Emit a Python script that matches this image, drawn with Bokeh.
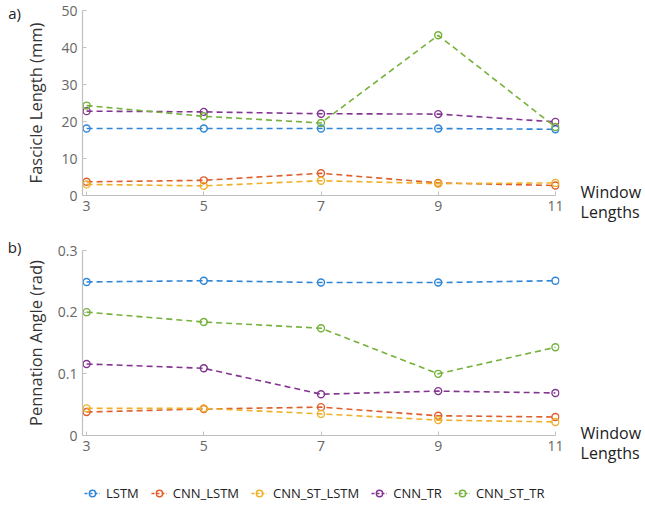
from bokeh.plotting import figure
from bokeh.models import Range1d, Legend, LegendItem, Label, CustomJSTickFormatter
from bokeh.layouts import column
from bokeh.embed import file_html
from bokeh.resources import INLINE

window_lengths = [3, 5, 7, 9, 11]
series_names = ["LSTM", "CNN_LSTM", "CNN_ST_LSTM", "CNN_TR", "CNN_ST_TR"]
colors = ["#2f86d6", "#dc5f2c", "#eeb02a", "#833591", "#76b13c"]

fascicle_lstm = [18.1, 18.1, 18.1, 18.1, 17.9]
fascicle_cnn_lstm = [3.7, 4.1, 6.0, 3.4, 2.7]
fascicle_cnn_st_lstm = [3.0, 2.6, 4.0, 3.2, 3.4]
fascicle_cnn_tr = [22.8, 22.6, 22.1, 22.0, 19.9]
fascicle_cnn_st_tr = [24.3, 21.4, 19.6, 43.3, 18.5]

pennation_lstm = [0.249, 0.251, 0.248, 0.248, 0.251]
pennation_cnn_lstm = [0.038, 0.043, 0.046, 0.032, 0.030]
pennation_cnn_st_lstm = [0.044, 0.044, 0.035, 0.025, 0.022]
pennation_cnn_tr = [0.116, 0.109, 0.067, 0.072, 0.069]
pennation_cnn_st_tr = [0.200, 0.184, 0.174, 0.100, 0.143]

fascicle = [fascicle_lstm, fascicle_cnn_lstm, fascicle_cnn_st_lstm, fascicle_cnn_tr, fascicle_cnn_st_tr]
pennation = [pennation_lstm, pennation_cnn_lstm, pennation_cnn_st_lstm, pennation_cnn_tr, pennation_cnn_st_tr]

FONT = "Open Sans"
AXIS_COL = "#c0c0c0"
TICK_TXT = "#666666"
X0, X1 = 2.93, 11.07


def make_panel(data, yend, yticks, ylabel, height, border_top, border_bottom, label_standoff, fmt):
    p = figure(width=645, height=height, output_backend="svg", toolbar_location=None,
               x_range=Range1d(X0, X1), y_range=Range1d(0, yend),
               min_border_left=82, min_border_right=86,
               min_border_top=border_top, min_border_bottom=border_bottom)
    p.outline_line_color = None
    p.grid.visible = False

    for vals, col in zip(data, colors):
        p.line(window_lengths, vals, line_color=col, line_width=1.6, line_dash="6 4")
        p.scatter(window_lengths, vals, marker="circle", size=7, line_color=col,
                  line_width=1.4, fill_color=None)

    for ax in [p.xaxis[0], p.yaxis[0]]:
        ax.axis_line_color = AXIS_COL
        ax.axis_line_width = 1.2
        ax.major_tick_line_color = AXIS_COL
        ax.major_tick_in = 4
        ax.major_tick_out = 0
        ax.minor_tick_line_color = None
        ax.major_label_text_color = TICK_TXT
        ax.major_label_text_font = FONT
        ax.major_label_text_font_size = "14px"
        ax.major_label_standoff = 5

    p.xaxis.ticker = window_lengths
    p.xaxis.bounds = (X0, 11)
    p.yaxis.ticker = yticks
    p.yaxis.axis_label = ylabel
    p.yaxis.axis_label_text_font = FONT
    p.yaxis.axis_label_text_font_size = "16.5px"
    p.yaxis.axis_label_text_font_style = "normal"
    p.yaxis.axis_label_text_color = "#333333"
    p.yaxis.axis_label_standoff = label_standoff
    if fmt:
        p.yaxis.formatter = CustomJSTickFormatter(code="return tick === 0 ? '0' : tick.toFixed(1);")
    return p


def side_label(p, side, x, y, text, size, align):
    p.add_layout(Label(x=x, y=y, text=text, text_font=FONT, text_font_size=size,
                       text_color="#222222", text_align=align, text_baseline="middle",
                       text_line_height=0.87), side)


top = make_panel(fascicle, 50, [0, 10, 20, 30, 40, 50], "Fascicle Length (mm)",
                 225, 10, 30, 11, False)
bot = make_panel(pennation, 0.3, [0, 0.1, 0.2, 0.3], "Pennation Angle (rad)",
                 245, 25, 35, 8, True)

side_label(top, "left", 1.77, 49.2, "a)", "15px", "center")
side_label(bot, "left", 1.77, 0.305, "b)", "15px", "center")
side_label(top, "right", 11.43, -1.76, "Window\nLengths", "16px", "left")
side_label(bot, "right", 11.43, -0.0122, "Window\nLengths", "16px", "left")

# legend strip (legend kept inside this figure's frame)
leg = figure(width=645, height=38, output_backend="svg", toolbar_location=None,
             x_range=Range1d(0, 1), y_range=Range1d(0, 1),
             min_border_left=82, min_border_right=86, min_border_top=0, min_border_bottom=0,
             x_axis_type=None, y_axis_type=None)
leg.outline_line_color = None
leg.grid.visible = False
items = []
for name, col in zip(series_names, colors):
    l = leg.line([-5, -4], [-5, -4], line_color=col, line_width=1.6, line_dash="3 2")
    c = leg.scatter([-5], [-5], marker="circle", size=6, line_color=col, line_width=1.4,
                    fill_color=None)
    items.append(LegendItem(label=name, renderers=[l, c]))
legend = Legend(items=items, orientation="horizontal", location=(2, 6),
                label_text_font=FONT, label_text_font_size="13px", label_text_color="#222222",
                glyph_width=16, glyph_height=18, label_height=18, label_standoff=6,
                spacing=12, padding=0, margin=0, border_line_color=None,
                background_fill_alpha=0)
leg.add_layout(legend)

layout = column(top, bot, leg, spacing=0)
open("out.html", "w").write(file_html(layout, INLINE))
